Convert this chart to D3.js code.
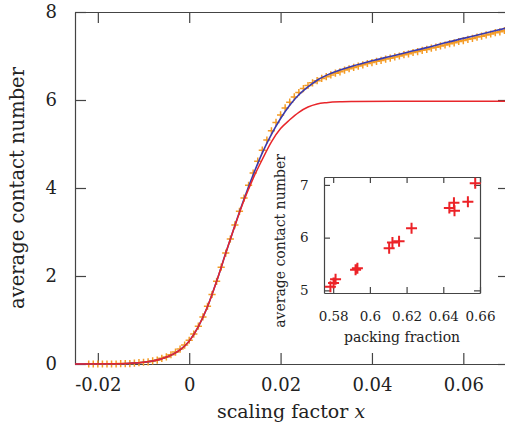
<!DOCTYPE html>
<html>
<head>
<meta charset="utf-8">
<script src="https://cdn.jsdelivr.net/npm/d3@7"></script>
<style>
  body { margin: 0; background: #fff; overflow: hidden; }
  svg { display: block; font-family: 'DejaVu Serif', serif; }
  .tick line, .domain { stroke: #444; stroke-width: 1.2; }
  .tick text { fill: #222; }
</style>
</head>
<body>
<svg width="505" height="427"></svg>
<script>
// main plot: ticks
const xTicks = [-0.02, 0, 0.02, 0.04, 0.06];
const xTickLabels = ['-0.02', '0', '0.02', '0.04', '0.06'];
const yTicks = [0, 2, 4, 6, 8];
const yTickLabels = ['0', '2', '4', '6', '8'];

// orange markers (simulation)
const markerX = [-0.022, -0.021, -0.020, -0.019, -0.018, -0.017, -0.016, -0.015, -0.014, -0.013,
  -0.012, -0.011, -0.010, -0.009, -0.008, -0.007, -0.006, -0.005, -0.004, -0.003, -0.002, -0.001,
  0.000, 0.001, 0.002, 0.003, 0.004, 0.005, 0.006, 0.007, 0.008, 0.009,
  0.010, 0.011, 0.012, 0.013, 0.014, 0.015, 0.016, 0.017, 0.018, 0.019,
  0.020, 0.021, 0.022, 0.023, 0.024, 0.025, 0.026, 0.027, 0.028, 0.029,
  0.030, 0.031, 0.032, 0.033, 0.034, 0.035, 0.036, 0.037, 0.038, 0.039,
  0.040, 0.041, 0.042, 0.043, 0.044, 0.045, 0.046, 0.047, 0.048, 0.049,
  0.050, 0.051, 0.052, 0.053, 0.054, 0.055, 0.056, 0.057, 0.058, 0.059,
  0.060, 0.061, 0.062, 0.063, 0.064, 0.065, 0.066, 0.067, 0.068, 0.069, 0.070];
const markerY = [0, 0, 0, 0, 0, 0, 0, 0.01, 0.01, 0.01,
  0.02, 0.03, 0.04, 0.05, 0.07, 0.09, 0.13, 0.16, 0.21, 0.27, 0.34, 0.43,
  0.54, 0.68, 0.86, 1.07, 1.31, 1.58, 1.88, 2.20, 2.52, 2.84,
  3.16, 3.47, 3.77, 4.06, 4.34, 4.61, 4.86, 5.09, 5.30, 5.49,
  5.66, 5.82, 5.95, 6.07, 6.17, 6.26, 6.33, 6.39, 6.44, 6.49,
  6.53, 6.57, 6.61, 6.64, 6.68, 6.71, 6.74, 6.77, 6.80, 6.83,
  6.85, 6.88, 6.90, 6.93, 6.95, 6.98, 7.00, 7.03, 7.05, 7.08,
  7.10, 7.13, 7.15, 7.18, 7.20, 7.23, 7.25, 7.28, 7.30, 7.33,
  7.35, 7.38, 7.40, 7.43, 7.45, 7.48, 7.50, 7.53, 7.55, 7.58, 7.60];

// blue curve
const blueX = [-0.025, -0.015, -0.012, -0.010, -0.008, -0.006, -0.004, -0.002, 0, 0.002,
  0.004, 0.006, 0.008, 0.010, 0.012, 0.014, 0.016, 0.018, 0.020, 0.022,
  0.024, 0.026, 0.028, 0.030, 0.033, 0.036, 0.040, 0.044, 0.048, 0.052,
  0.056, 0.060, 0.064, 0.068, 0.070];
const blueY = [0, 0.005, 0.02, 0.04, 0.07, 0.12, 0.20, 0.32, 0.52, 0.85,
  1.30, 1.88, 2.52, 3.15, 3.75, 4.30, 4.80, 5.22, 5.58, 5.88,
  6.12, 6.30, 6.45, 6.56, 6.68, 6.78, 6.89, 6.99, 7.09, 7.19,
  7.30, 7.40, 7.50, 7.60, 7.65];

// red curve
const redX = [-0.025, -0.015, -0.012, -0.010, -0.008, -0.006, -0.004, -0.002, 0, 0.002,
  0.004, 0.006, 0.008, 0.010, 0.012, 0.014, 0.016, 0.018, 0.020, 0.022,
  0.024, 0.026, 0.028, 0.030, 0.033, 0.036, 0.045, 0.070];
const redY = [0, 0.005, 0.02, 0.04, 0.07, 0.12, 0.20, 0.32, 0.52, 0.85,
  1.30, 1.88, 2.52, 3.14, 3.72, 4.22, 4.65, 5.05, 5.35, 5.55,
  5.72, 5.84, 5.91, 5.94, 5.96, 5.965, 5.97, 5.97];

// inset
const insetXTicks = [0.58, 0.6, 0.62, 0.64, 0.66];
const insetXTickLabels = ['0.58', '0.6', '0.62', '0.64', '0.66'];
const insetYTicks = [5, 6, 7];
const insetYTickLabels = ['5', '6', '7'];
const packingFraction = [0.5785, 0.5802, 0.5813, 0.5922, 0.5932, 0.6105, 0.6123,
  0.6159, 0.6227, 0.6433, 0.6458, 0.6461, 0.6534, 0.6574];
const contactNumber = [5.07, 5.14, 5.21, 5.39, 5.42, 5.80, 5.91,
  5.93, 6.18, 6.56, 6.66, 6.51, 6.68, 7.03];

const svg = d3.select('svg');

const plus = (x, y, s) => `M${x - s},${y}h${2 * s}M${x},${y - s}v${2 * s}`;
const zip = (xs, ys) => xs.map((x, i) => ({ x, y: ys[i] }));

// ---- main plot ----
const margin = { left: 75, top: 12, right: 509, bottom: 364 };

const xScale = d3.scaleLinear()
  .domain([-0.025, 0.07])
  .range([margin.left, margin.right]);

const yScale = d3.scaleLinear()
  .domain([0, 8])
  .range([margin.bottom, margin.top]);

const main = svg.append('g');

main.append('g')
    .attr('transform', `translate(0,${margin.bottom})`)
    .call(d3.axisBottom(xScale)
      .tickValues(xTicks)
      .tickFormat((d, i) => xTickLabels[i])
      .tickSizeInner(-11).tickSizeOuter(0).tickPadding(14))
    .attr('font-size', 18).attr('font-family', null);

main.append('g')
    .attr('transform', `translate(0,${margin.top})`)
    .call(d3.axisTop(xScale)
      .tickValues(xTicks).tickFormat('')
      .tickSizeInner(-11).tickSizeOuter(0));

main.append('g')
    .attr('transform', `translate(${margin.left},0)`)
    .call(d3.axisLeft(yScale)
      .tickValues(yTicks)
      .tickFormat((d, i) => yTickLabels[i])
      .tickSizeInner(-11).tickSizeOuter(0).tickPadding(18))
    .attr('font-size', 18).attr('font-family', null);

main.append('g')
    .attr('transform', `translate(${margin.right},0)`)
    .call(d3.axisRight(yScale)
      .tickValues(yTicks).tickFormat('')
      .tickSizeInner(-11).tickSizeOuter(0));

main.append('text')
    .attr('transform', 'translate(24,188) rotate(-90)')
    .attr('text-anchor', 'middle')
    .attr('font-size', 19.5)
    .attr('fill', '#222')
    .text('average contact number');

const xLabel = main.append('text')
    .attr('x', 291)
    .attr('y', 418)
    .attr('text-anchor', 'middle')
    .attr('font-size', 19)
    .attr('fill', '#222')
    .text('scaling factor ');
xLabel.append('tspan').attr('font-style', 'italic').text('x');

main.append('path')
    .attr('d', zip(markerX, markerY).map(d => plus(xScale(d.x), yScale(d.y), 3.6)).join(''))
    .attr('fill', 'none')
    .attr('stroke', '#f49b25')
    .attr('stroke-width', 1.5);

const lineGenerator = d3.line()
  .x(d => xScale(d.x))
  .y(d => yScale(d.y))
  .curve(d3.curveMonotoneX);

main.append('path')
    .attr('d', lineGenerator(zip(blueX, blueY)))
    .attr('fill', 'none')
    .attr('stroke', '#3a3aae')
    .attr('stroke-width', 1.6);

main.append('path')
    .attr('d', lineGenerator(zip(redX, redY)))
    .attr('fill', 'none')
    .attr('stroke', '#e8262b')
    .attr('stroke-width', 1.5);

// ---- inset ----
const inset = { left: 324, top: 177, right: 480, bottom: 293 };

const ixScale = d3.scaleLinear()
  .domain([0.575, 0.66])
  .range([inset.left, inset.right]);

const iyScale = d3.scaleLinear()
  .domain([4.95, 7.15])
  .range([inset.bottom, inset.top]);

const ig = svg.append('g');

ig.append('rect')
    .attr('x', inset.left).attr('y', inset.top)
    .attr('width', inset.right - inset.left)
    .attr('height', inset.bottom - inset.top)
    .attr('fill', '#fff');

ig.append('g')
    .attr('transform', `translate(0,${inset.bottom})`)
    .call(d3.axisBottom(ixScale)
      .tickValues(insetXTicks)
      .tickFormat((d, i) => insetXTickLabels[i])
      .tickSizeInner(-6).tickSizeOuter(0).tickPadding(18))
    .attr('font-size', 13.5).attr('font-family', null);

ig.append('g')
    .attr('transform', `translate(0,${inset.top})`)
    .call(d3.axisTop(ixScale)
      .tickValues(insetXTicks).tickFormat('')
      .tickSizeInner(-6).tickSizeOuter(0));

ig.append('g')
    .attr('transform', `translate(${inset.left},0)`)
    .call(d3.axisLeft(iyScale)
      .tickValues(insetYTicks)
      .tickFormat((d, i) => insetYTickLabels[i])
      .tickSizeInner(-6).tickSizeOuter(0).tickPadding(15.5))
    .attr('font-size', 13.5).attr('font-family', null);

ig.append('g')
    .attr('transform', `translate(${inset.right},0)`)
    .call(d3.axisRight(iyScale)
      .tickValues(insetYTicks).tickFormat('')
      .tickSizeInner(-6).tickSizeOuter(0));

ig.append('text')
    .attr('x', (inset.left + inset.right) / 2)
    .attr('y', 341.5)
    .attr('text-anchor', 'middle')
    .attr('font-size', 14)
    .attr('fill', '#222')
    .text('packing fraction');

ig.append('text')
    .attr('transform', 'translate(285,241) rotate(-90)')
    .attr('text-anchor', 'middle')
    .attr('font-size', 14)
    .attr('fill', '#222')
    .text('average contact number');

ig.append('path')
    .attr('d', zip(packingFraction, contactNumber).map(d => plus(ixScale(d.x), iyScale(d.y), 5.5)).join(''))
    .attr('fill', 'none')
    .attr('stroke', '#ec2227')
    .attr('stroke-width', 2);
</script>
</body>
</html>
